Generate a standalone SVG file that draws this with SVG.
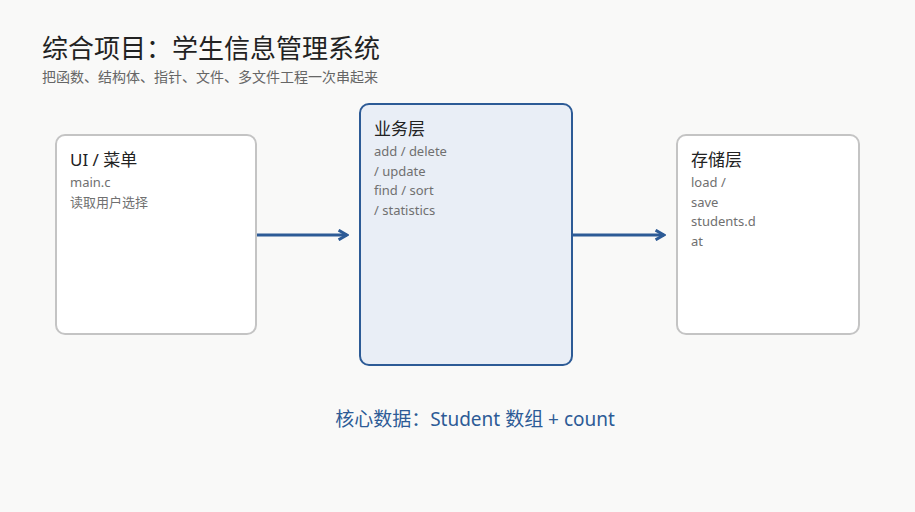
<svg xmlns="http://www.w3.org/2000/svg" width="915" height="512" viewBox="0 0 915 512">
<style>
text{font-family:"Noto Sans","Noto Sans CJK SC",sans-serif}
.box{fill:#fff;stroke:#c4c4c4;stroke-width:2}
.hl{fill:#e9eef6;stroke:#2d5b96;stroke-width:2}
.t{font-size:17px;fill:#222}
.s{font-size:13px;fill:#707070}
.c{stroke:#2d5b96;stroke-width:3;fill:none}
</style>
<defs><marker id="a" viewBox="0 0 10 10" refX="8" refY="5" markerWidth="4" markerHeight="4" orient="auto"><path d="M1,1 L8,5 L1,9" fill="none" stroke="#2d5b96" stroke-width="2.5"/></marker></defs>
<rect width="915" height="512" fill="#f9f9f8"/>
<text x="42" y="58" font-size="26" fill="#222">综合项目：学生信息管理系统</text>
<text x="42" y="82" font-size="14" fill="#666">把函数、结构体、指针、文件、多文件工程一次串起来</text>
<g id="connectors">
<path class="c" d="M256,235 H347" marker-end="url(#a)"/>
<path class="c" d="M572,235 H664" marker-end="url(#a)"/>
</g>
<g id="ui"><rect class="box" x="56" y="135" width="200" height="199" rx="9"/>
<text class="t" x="70" y="166">UI / 菜单</text>
<text class="s" x="70" y="187">main.c</text><text class="s" x="70" y="207">读取用户选择</text></g>
<g id="biz"><rect class="hl" x="360" y="104" width="212" height="261" rx="9"/>
<text class="t" x="374" y="135">业务层</text>
<text class="s" x="374" y="156">add / delete</text><text class="s" x="374" y="176">/ update</text><text class="s" x="374" y="195">find / sort</text><text class="s" x="374" y="215">/ statistics</text></g>
<g id="store"><rect class="box" x="677" y="135" width="182" height="199" rx="9"/>
<text class="t" x="691" y="166">存储层</text>
<text class="s" x="691" y="187">load /</text><text class="s" x="691" y="207">save</text><text class="s" x="691" y="226">students.d</text><text class="s" x="691" y="246">at</text></g>
<text x="475" y="426" font-size="19" fill="#2d5b96" text-anchor="middle">核心数据：Student 数组 + count</text>
</svg>
